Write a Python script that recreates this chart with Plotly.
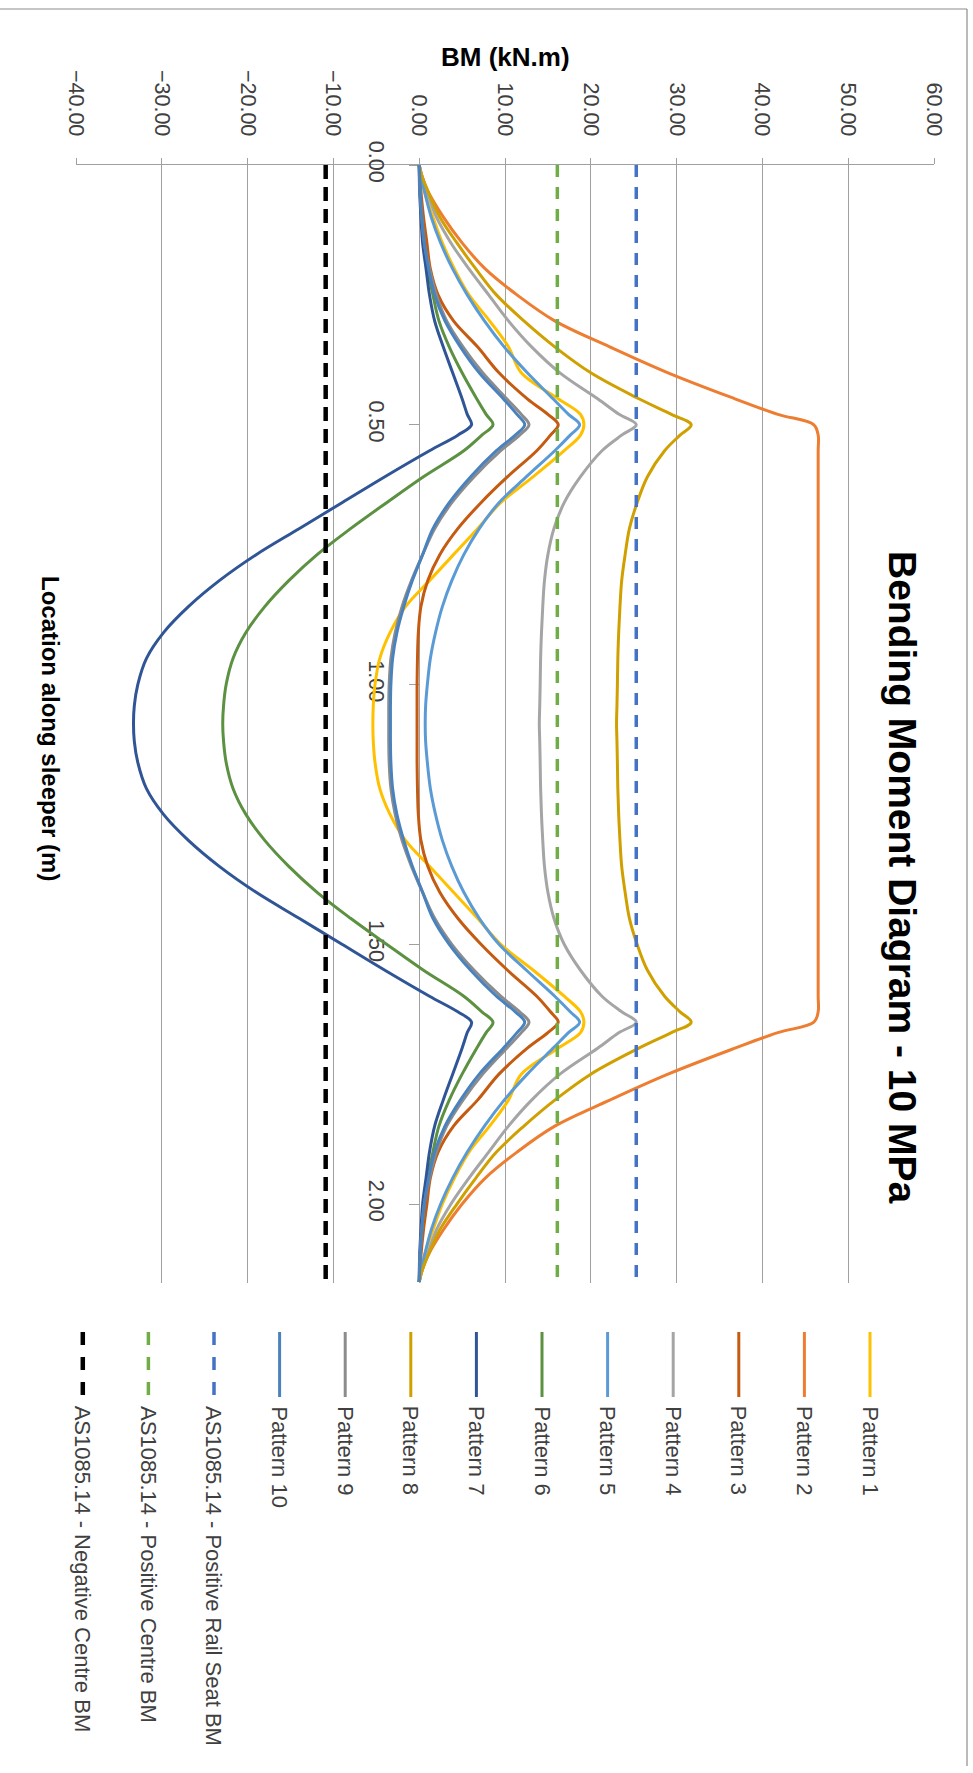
import plotly.graph_objects as go

# Location along the sleeper (m)
location = [0, 0.02, 0.05, 0.1, 0.15, 0.2, 0.25, 0.3, 0.35, 0.4, 0.45, 0.48, 0.5,
            0.52, 0.55, 0.6, 0.65, 0.7, 0.75, 0.8, 0.85, 0.9, 0.95, 1.0, 1.04,
            1.075,
            1.11, 1.15, 1.2, 1.25, 1.3, 1.35, 1.4, 1.45, 1.5, 1.55, 1.6, 1.63,
            1.65, 1.67, 1.7, 1.75, 1.8, 1.85, 1.9, 1.95, 2.0, 2.05, 2.1, 2.13, 2.15]

# Bending moment (kN.m) for each load pattern
pattern_1 = [0, 0.2, 0.6, 1.6, 2.7, 4.1, 5.8, 8.2, 10.4, 11.9, 16.2, 18.8, 19.2,
             18.8, 16.9, 13.3, 9.5, 6.8, 4.0, 1.2, -1.6, -3.4, -4.6, -5.15, -5.35,
             -5.4,
             -5.35, -5.15, -4.6, -3.4, -1.6, 1.2, 4.0, 6.8, 9.5, 13.3, 16.9, 18.8,
             19.2, 18.8, 16.2, 11.9, 10.4, 8.2, 5.8, 4.1, 2.7, 1.6, 0.6, 0.2, 0]
pattern_2 = [0, 0.3, 1.0, 2.8, 5.0, 7.7, 11.4, 15.8, 22.2, 29.0, 36.8, 41.8, 46.0,
             46.5, 46.5, 46.5, 46.5, 46.5, 46.5, 46.5, 46.5, 46.5, 46.5, 46.5, 46.5,
             46.5,
             46.5, 46.5, 46.5, 46.5, 46.5, 46.5, 46.5, 46.5, 46.5, 46.5, 46.5, 46.5,
             46.0, 41.8, 36.8, 29.0, 22.2, 15.8, 11.4, 7.7, 5.0, 2.8, 1.0, 0.3, 0]
pattern_3 = [0, 0.1, 0.2, 0.5, 0.9, 1.3, 2.2, 4.0, 6.8, 9.3, 12.6, 15.0, 16.2,
             15.3, 13.7, 10.3, 7.2, 4.5, 2.4, 1.0, 0.2, -0.1, -0.2, -0.25, -0.25,
             -0.25,
             -0.25, -0.25, -0.2, -0.1, 0.2, 1.0, 2.4, 4.5, 7.2, 10.3, 13.7, 15.3,
             16.2, 15.0, 12.6, 9.3, 6.8, 4.0, 2.2, 1.3, 0.9, 0.5, 0.2, 0.1, 0]
pattern_4 = [0, 0.3, 0.9, 2.0, 3.7, 5.8, 8.1, 10.4, 13.1, 16.4, 20.8, 23.3, 25.3,
             23.6, 21.3, 18.8, 16.9, 15.7, 15.0, 14.6, 14.4, 14.25, 14.15, 14.1, 14.05,
             14.0,
             14.05, 14.1, 14.15, 14.25, 14.4, 14.6, 15.0, 15.7, 16.9, 18.8, 21.3, 23.6,
             25.3, 23.3, 20.8, 16.4, 13.1, 10.4, 8.1, 5.8, 3.7, 2.0, 0.9, 0.3, 0]
pattern_5 = [0, 0.2, 0.6, 1.4, 2.5, 3.9, 5.6, 7.6, 9.9, 12.6, 15.6, 17.4, 18.7,
             17.6, 15.8, 12.5, 9.3, 7.0, 5.2, 3.8, 2.7, 1.9, 1.3, 0.95, 0.75,
             0.7,
             0.75, 0.95, 1.3, 1.9, 2.7, 3.8, 5.2, 7.0, 9.3, 12.5, 15.8, 17.6,
             18.7, 17.4, 15.6, 12.6, 9.9, 7.6, 5.6, 3.9, 2.5, 1.4, 0.6, 0.2, 0]
pattern_6 = [0, 0.03, 0.1, 0.3, 0.6, 1.0, 1.6, 2.3, 3.5, 5.0, 6.7, 7.8, 8.6,
             7.3, 5.2, 0.5, -3.8, -8.0, -11.9, -15.2, -18.0, -20.2, -21.7, -22.5, -22.8,
             -22.9,
             -22.8, -22.5, -21.7, -20.2, -18.0, -15.2, -11.9, -8.0, -3.8, 0.5, 5.2, 7.3,
             8.6, 7.8, 6.7, 5.0, 3.5, 2.3, 1.6, 1.0, 0.6, 0.3, 0.1, 0.03, 0]
pattern_7 = [0, 0.01, 0.05, 0.2, 0.4, 0.8, 1.2, 1.8, 2.8, 3.9, 5.0, 5.6, 6.1,
             4.5, 1.2, -4.0, -9.0, -14.0, -19.0, -23.3, -26.9, -29.8, -31.8, -32.8, -33.2,
             -33.3,
             -33.2, -32.8, -31.8, -29.8, -26.9, -23.3, -19.0, -14.0, -9.0, -4.0, 1.2, 4.5,
             6.1, 5.6, 5.0, 3.9, 2.8, 1.8, 1.2, 0.8, 0.4, 0.2, 0.05, 0.01, 0]
pattern_8 = [0, 0.3, 1.0, 2.4, 4.4, 6.6, 9.0, 12.2, 15.8, 20.0, 25.6, 29.4, 31.7,
             30.4, 28.6, 26.6, 25.4, 24.5, 24.0, 23.6, 23.4, 23.25, 23.15, 23.1, 23.05,
             23.0,
             23.05, 23.1, 23.15, 23.25, 23.4, 23.6, 24.0, 24.5, 25.4, 26.6, 28.6, 30.4,
             31.7, 29.4, 25.6, 20.0, 15.8, 12.2, 9.0, 6.6, 4.4, 2.4, 1.0, 0.3, 0]
pattern_9 = [0, 0.05, 0.1, 0.3, 0.6, 1.2, 2.0, 3.2, 5.1, 7.4, 10.2, 11.9, 12.8,
             11.7, 9.5, 6.4, 3.8, 1.8, 0.4, -0.9, -2.0, -2.8, -3.3, -3.5, -3.55,
             -3.55,
             -3.55, -3.5, -3.3, -2.8, -2.0, -0.9, 0.4, 1.8, 3.8, 6.4, 9.5, 11.7,
             12.8, 11.9, 10.2, 7.4, 5.1, 3.2, 2.0, 1.2, 0.6, 0.3, 0.1, 0.05, 0]
pattern_10 = [0, 0.05, 0.1, 0.3, 0.6, 1.1, 1.8, 3.0, 4.8, 7.0, 9.8, 11.4, 12.3,
              11.2, 9.0, 6.0, 3.5, 1.6, 0.4, -0.8, -1.8, -2.6, -3.1, -3.3, -3.35,
              -3.35,
              -3.35, -3.3, -3.1, -2.6, -1.8, -0.8, 0.4, 1.6, 3.5, 6.0, 9.0, 11.2,
              12.3, 11.4, 9.8, 7.0, 4.8, 3.0, 1.8, 1.1, 0.6, 0.3, 0.1, 0.05, 0]

# AS1085.14 design limits (kN.m)
rail_seat_positive = 25.3
centre_positive = 16.1
centre_negative = -10.9

pattern_names = ["Pattern 1", "Pattern 2", "Pattern 3", "Pattern 4", "Pattern 5",
                 "Pattern 6", "Pattern 7", "Pattern 8", "Pattern 9", "Pattern 10"]
pattern_colors = ["#FFC000", "#ED7D31", "#C55A11", "#A5A5A5", "#5B9BD5",
                  "#5B9140", "#2F5597", "#D0A000", "#8C8C8C", "#4A82BE"]
pattern_values = [pattern_1, pattern_2, pattern_3, pattern_4, pattern_5,
                  pattern_6, pattern_7, pattern_8, pattern_9, pattern_10]

limit_names = ["AS1085.14 - Positive Rail Seat BM", "AS1085.14 - Positive Centre BM",
               "AS1085.14 - Negative Centre BM"]
limit_values = [rail_seat_positive, centre_positive, centre_negative]
limit_colors = ["#4472C4", "#70AD47", "#000000"]
limit_widths = [3.5, 3.5, 4.5]
limit_dash = ["12px,10px", "12px,10px", "14px,8px"]

W, H = 973, 1773
ML, MR, MT, MB = 76, 39, 165, 490
PW = W - ML - MR
PH = H - MT - MB

FONT = "Liberation Sans, Arial, sans-serif"
TEXT = "#404040"
GRID = "#A0A0A0"


def px(x):
    """Pixel column -> paper x."""
    return (x - ML) / PW


def py(y):
    """Pixel row -> paper y."""
    return (H - MB - y) / PH


fig = go.Figure()

for name, vals, color in zip(pattern_names, pattern_values, pattern_colors):
    fig.add_trace(go.Scatter(
        x=vals, y=location, mode="lines", name=name, showlegend=False,
        line=dict(color=color, width=3, shape="spline", smoothing=1.0),
        hoverinfo="skip"))

for name, val, color, wd, dsh in zip(limit_names, limit_values, limit_colors,
                                     limit_widths, limit_dash):
    fig.add_trace(go.Scatter(
        x=[val] * len(location), y=location, mode="lines", name=name,
        showlegend=False, hoverinfo="skip",
        line=dict(color=color, width=wd, dash=dsh)))

shapes = []
annotations = []

# Legend drawn as a rotated column of entries along the bottom
legend_names = pattern_names + limit_names
legend_colors = pattern_colors + limit_colors
legend_dash = ["solid"] * 10 + ["13px,12px"] * 3
legend_width = [3] * 10 + [3.5, 3.5, 4.5]
for i, (name, color) in enumerate(zip(legend_names, legend_colors)):
    xc = 870 - 65.6 * i
    shapes.append(dict(type="line", xref="paper", yref="paper",
                       x0=px(xc), x1=px(xc), y0=py(1332), y1=py(1397),
                       line=dict(color=color, width=legend_width[i], dash=legend_dash[i])))
    annotations.append(dict(text=name, xref="paper", yref="paper",
                            x=px(xc), y=py(1404), xanchor="center", yanchor="top",
                            textangle=90, showarrow=False,
                            font=dict(family=FONT, size=22, color=TEXT)))

# Chart title and axis titles
annotations.append(dict(text="<b>Bending Moment Diagram - 10 MPa</b>", xref="paper",
                        yref="paper", x=px(903), y=py(877), xanchor="center",
                        yanchor="middle", textangle=90, showarrow=False,
                        font=dict(family=FONT, size=39, color="#000000")))
annotations.append(dict(text="<b>BM (kN.m)</b>", xref="paper", yref="paper",
                        x=px(505), y=py(57), xanchor="center", yanchor="middle",
                        showarrow=False,
                        font=dict(family=FONT, size=26, color="#000000")))
annotations.append(dict(text="<b>Location along sleeper (m)</b>", xref="paper",
                        yref="paper", x=px(51), y=py(728), xanchor="center",
                        yanchor="middle", textangle=90, showarrow=False,
                        font=dict(family=FONT, size=24, color="#000000")))

# Chart-area frame (top and right edges)
shapes.append(dict(type="line", xref="paper", yref="paper", x0=px(0), x1=px(967),
                   y0=py(9), y1=py(9), line=dict(color="#8C8C8C", width=1.2)))
shapes.append(dict(type="line", xref="paper", yref="paper", x0=px(967), x1=px(967),
                   y0=py(9), y1=py(1766), line=dict(color="#8C8C8C", width=1.2)))

fig.update_layout(
    width=W, height=H, autosize=False,
    margin=dict(l=ML, r=MR, t=MT, b=MB, pad=0),
    paper_bgcolor="white", plot_bgcolor="white",
    showlegend=False,
    shapes=shapes, annotations=annotations,
    xaxis=dict(range=[-40, 60], dtick=10, tick0=0, tickformat=".2f", side="top",
               tickangle=90, showgrid=True, gridcolor=GRID, gridwidth=1.3,
               zeroline=False, showline=True, linecolor=GRID, linewidth=1.3,
               ticks="outside", ticklen=6, tickcolor=GRID, tickwidth=1.3,
               ticklabelstandoff=14, layer="below traces",
               tickfont=dict(family=FONT, size=21.5, color=TEXT)),
    yaxis=dict(range=[2.152, 0], tickvals=[0, 0.5, 1.0, 1.5, 2.0], tickformat=".2f",
               tickangle=90, anchor="free", position=0.4, side="left",
               showgrid=False, zeroline=False, showline=True, linecolor=GRID,
               linewidth=1.3, ticks="outside", ticklen=10, tickcolor=GRID,
               tickwidth=1.3, ticklabelstandoff=14, layer="below traces",
               tickfont=dict(family=FONT, size=21.5, color=TEXT)),
)

fig.write_html("out.html")
